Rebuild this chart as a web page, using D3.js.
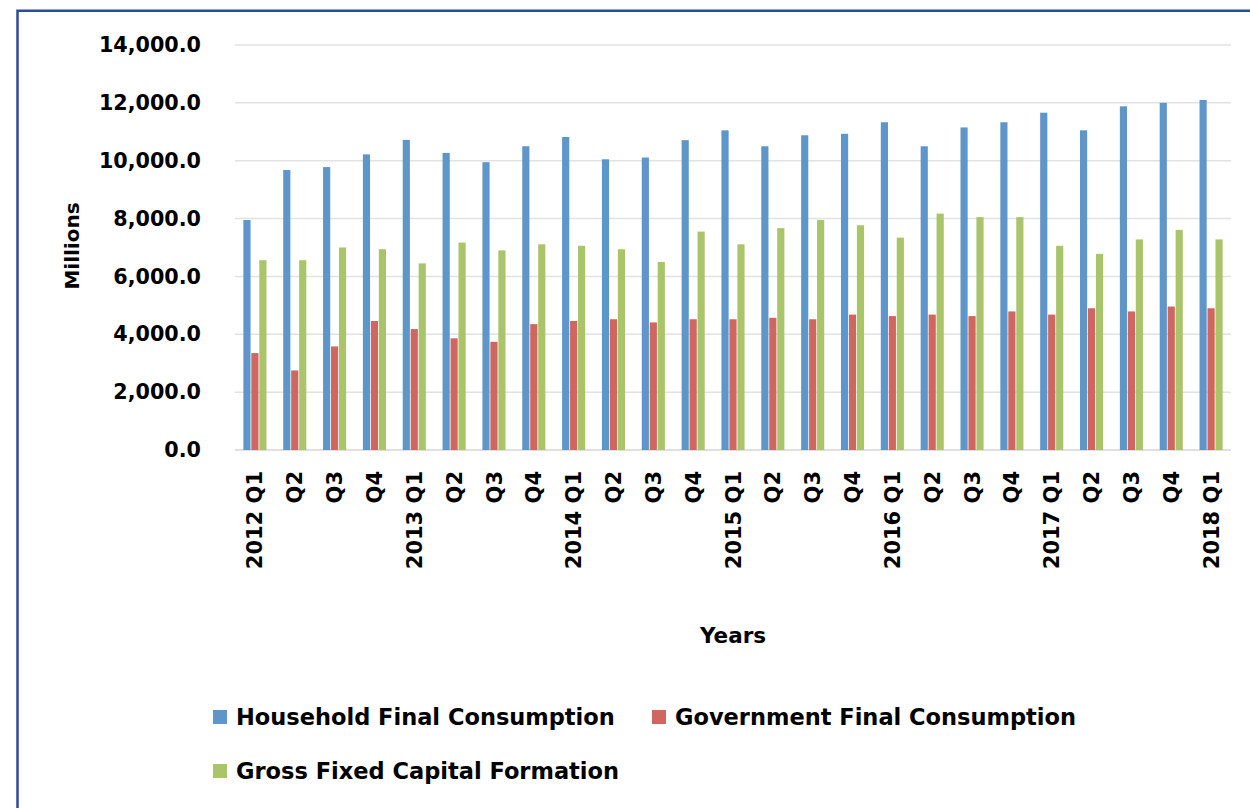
<!DOCTYPE html>
<html>
<head>
<meta charset="utf-8">
<script src="https://cdn.jsdelivr.net/npm/d3@7"></script>
<style>
  html, body { margin: 0; padding: 0; background: #fff; }
  svg { display: block; }
  text { font-family: "DejaVu Sans", sans-serif; font-weight: bold; fill: #000; }
</style>
</head>
<body>
<svg id="chart" width="1250" height="808"></svg>
<script>
// Quarterly expenditure components, millions
const quarters = [
  "2012 Q1", "Q2", "Q3", "Q4",
  "2013 Q1", "Q2", "Q3", "Q4",
  "2014 Q1", "Q2", "Q3", "Q4",
  "2015 Q1", "Q2", "Q3", "Q4",
  "2016 Q1", "Q2", "Q3", "Q4",
  "2017 Q1", "Q2", "Q3", "Q4",
  "2018 Q1"
];

const household = [
  7950, 9680, 9780, 10220,
  10720, 10270, 9950, 10500,
  10820, 10050, 10110, 10710,
  11050, 10500, 10880, 10930,
  11330, 10500, 11150, 11330,
  11660, 11050, 11880, 12000,
  12100
];

const government = [
  3350, 2750, 3580, 4460,
  4180, 3860, 3740, 4350,
  4460, 4520, 4410, 4520,
  4520, 4570, 4520, 4680,
  4630, 4680, 4630, 4790,
  4680, 4900, 4790, 4960,
  4900
];

const capital = [
  6560, 6560, 7000, 6940,
  6450, 7170, 6900, 7110,
  7060, 6940, 6500, 7550,
  7110, 7670, 7950, 7770,
  7340, 8170, 8050, 8050,
  7060, 6780, 7280, 7610,
  7280
];

const seriesNames = [
  "Household Final Consumption",
  "Government Final Consumption",
  "Gross Fixed Capital Formation"
];
const seriesColors = ["#5f96ca", "#cf6760", "#aac46a"];
const yTicks = [0, 2000, 4000, 6000, 8000, 10000, 12000, 14000];

const seriesValues = [household, government, capital];
const rows = quarters.map((q, i) => ({
  quarter: q,
  values: seriesValues.map((vals, s) => ({ series: s, value: vals[i] }))
}));

const svg = d3.select("#chart");

// outer frame (only the left and top edges fall inside the view)
svg.append("path")
  .attr("d", "M17.5,830 V10.8 H1270")
  .attr("fill", "none")
  .attr("stroke", "#2d4b9b")
  .attr("stroke-width", 2.5);

const plot = { left: 235, right: 1231, top: 45, bottom: 450 };

const x0 = d3.scaleBand()
  .domain(quarters.map((q, i) => i))
  .range([plot.left, plot.right])
  .paddingInner(0.4)
  .paddingOuter(0.2);

const x1 = d3.scaleBand()
  .domain(d3.range(seriesNames.length))
  .range([0, x0.bandwidth()]);

const y = d3.scaleLinear()
  .domain([0, 14000])
  .range([plot.bottom, plot.top]);

// horizontal gridlines
svg.append("g")
  .selectAll("line")
  .data(yTicks)
  .join("line")
  .attr("x1", plot.left)
  .attr("x2", plot.right)
  .attr("y1", d => y(d))
  .attr("y2", d => y(d))
  .attr("stroke", d => d === 0 ? "#d6d6d6" : "#e2e2e2")
  .attr("stroke-width", 1.5);

// y axis labels
const yAxis = d3.axisLeft(y)
  .tickValues(yTicks)
  .tickFormat(d3.format(",.1f"))
  .tickSize(0)
  .tickPadding(0);

const yg = svg.append("g")
  .attr("transform", `translate(201,0)`)
  .call(yAxis);
yg.select(".domain").remove();
yg.selectAll("text")
  .attr("font-size", 20.7)
  .attr("font-family", "DejaVu Sans")
  .attr("font-weight", "bold")
  .attr("fill", "#000");

// bars
const groups = svg.append("g")
  .selectAll("g")
  .data(rows)
  .join("g")
  .attr("transform", (d, i) => `translate(${x0(i)},0)`);

groups.selectAll("rect")
  .data(d => d.values)
  .join("rect")
  .attr("x", d => x1(d.series) + 0.4)
  .attr("width", x1.bandwidth() - 0.8)
  .attr("y", d => y(d.value))
  .attr("height", d => y(0) - y(d.value))
  .attr("fill", d => seriesColors[d.series]);

// x axis labels, rotated
const xAxis = d3.axisBottom(x0)
  .tickFormat(i => quarters[i])
  .tickSize(0)
  .tickPadding(0);

const xg = svg.append("g")
  .attr("transform", `translate(0,${plot.bottom})`)
  .call(xAxis);
xg.select(".domain").remove();
xg.selectAll("text")
  .attr("font-size", 21)
  .attr("font-family", "DejaVu Sans")
  .attr("font-weight", "bold")
  .attr("fill", "#000")
  .attr("text-anchor", "end")
  .attr("transform", "translate(0,21) rotate(-90)")
  .attr("x", 0)
  .attr("y", 0)
  .attr("dy", "0.36em");

// axis titles
svg.append("text")
  .attr("x", 733)
  .attr("y", 643)
  .attr("text-anchor", "middle")
  .attr("font-size", 21.5)
  .text("Years");

svg.append("text")
  .attr("transform", "translate(79,246) rotate(-90)")
  .attr("text-anchor", "middle")
  .attr("font-size", 20)
  .text("Millions");

// legend
const legendItems = [
  { s: 0, x: 213, y: 717 },
  { s: 1, x: 652, y: 717 },
  { s: 2, x: 213, y: 771 }
];

const legend = svg.append("g")
  .selectAll("g")
  .data(legendItems)
  .join("g")
  .attr("transform", d => `translate(${d.x},${d.y})`);

legend.append("rect")
  .attr("x", 0)
  .attr("y", -7)
  .attr("width", 14)
  .attr("height", 14)
  .attr("fill", d => seriesColors[d.s]);

legend.append("text")
  .attr("x", 23)
  .attr("y", 0)
  .attr("dy", "0.36em")
  .attr("font-size", 22.5)
  .text(d => seriesNames[d.s]);
</script>
</body>
</html>
